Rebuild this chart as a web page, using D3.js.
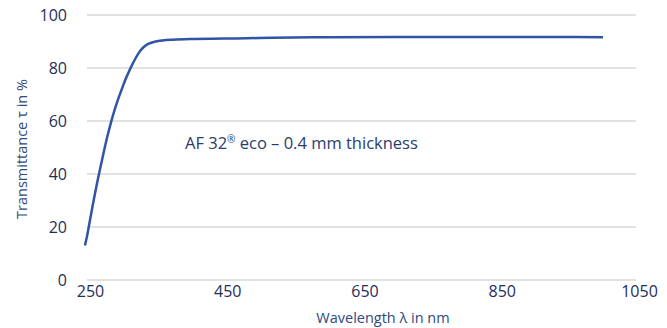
<!DOCTYPE html>
<html>
<head>
<meta charset="utf-8">
<script src="https://cdn.jsdelivr.net/npm/d3@7"></script>
<style>
  body { margin: 0; background: #fff; }
  svg text { font-family: "Open Sans", "Noto Sans", sans-serif; }
</style>
</head>
<body>
<div id="viz"></div>
<script>
const width = 667;
const height = 328;

// transmittance curve
const wavelength = [247, 250, 255, 260, 265, 270, 275, 280, 285, 290, 295, 300, 305, 310, 315, 320, 325, 330, 335, 340, 350, 360, 375, 400, 450, 500, 550, 600, 700, 800, 900, 1002];
const transmittance = [13, 16.5, 23.5, 30.5, 37, 43, 49, 54.5, 59.5, 64, 68, 71.5, 75, 78, 80.8, 83.3, 85.5, 87.2, 88.4, 89.2, 90, 90.4, 90.7, 90.95, 91.1, 91.3, 91.5, 91.6, 91.7, 91.7, 91.7, 91.6];
const xTicks = [250, 450, 650, 850, 1050];
const yTicks = [0, 20, 40, 60, 80, 100];

const x = d3.scaleLinear().domain([250, 1050]).range([87, 636]);
const y = d3.scaleLinear().domain([0, 100]).range([280, 15]);

const svg = d3.select('#viz')
  .append('svg')
  .attr('width', width)
  .attr('height', height);

// gridlines
svg.append('g')
  .selectAll('line')
  .data(yTicks)
  .enter()
  .append('line')
  .attr('x1', x(250))
  .attr('x2', x(1050))
  .attr('y1', d => y(d))
  .attr('y2', d => y(d))
  .attr('stroke', '#d9d9d9')
  .attr('stroke-width', 1.5);

const yAxis = svg.append('g')
  .attr('transform', 'translate(' + (x(250) - 20) + ',0)')
  .call(d3.axisLeft(y).tickValues(yTicks).tickSize(0).tickPadding(0));
yAxis.select('.domain').remove();
yAxis.selectAll('text')
  .attr('fill', '#1f2d5a')
  .style('font-size', '16px');

const xAxis = svg.append('g')
  .attr('transform', 'translate(3,' + (y(0) + 4) + ')')
  .call(d3.axisBottom(x).tickValues(xTicks).tickFormat(d3.format('d')).tickSize(0).tickPadding(2));
xAxis.select('.domain').remove();
xAxis.selectAll('text')
  .attr('fill', '#1f2d5a')
  .style('font-size', '16px');

const data = wavelength.map((w, i) => ({w: w, t: transmittance[i]}));

const line = d3.line()
  .x(d => x(d.w))
  .y(d => y(d.t))
  .curve(d3.curveMonotoneX);

svg.append('path')
  .datum(data)
  .attr('d', line)
  .attr('fill', 'none')
  .attr('stroke', '#2f55a4')
  .attr('stroke-width', 2.5);

const note = svg.append('text')
  .attr('x', 185)
  .attr('y', 149)
  .attr('fill', '#2a3c6e')
  .style('font-size', '16.5px');
note.append('tspan').text('AF 32');
note.append('tspan').attr('dy', -6).style('font-size', '10px').text('®');
note.append('tspan').attr('dy', 6).text(' eco – 0.4 mm thickness');

svg.append('text')
  .attr('x', 383)
  .attr('y', 323)
  .attr('text-anchor', 'middle')
  .attr('fill', '#2e4a7d')
  .style('font-size', '14.5px')
  .text('Wavelength λ in nm');

svg.append('text')
  .attr('transform', 'translate(27,149) rotate(-90)')
  .attr('text-anchor', 'middle')
  .attr('fill', '#2e4a7d')
  .style('font-size', '14.5px')
  .text('Transmittance τ in %');
</script>
</body>
</html>
